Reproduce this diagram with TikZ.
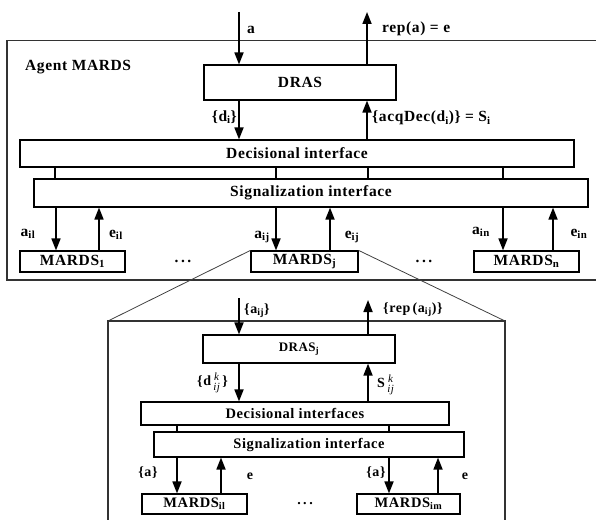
\documentclass[tikz,border=0pt]{standalone}
\usepackage{fontspec}
\setmainfont{Liberation Serif}[LetterSpace=4]
\usetikzlibrary{arrows.meta}
\newcommand{\kij}{\raisebox{-5pt}{\fontsize{11}{11.5}\selectfont\mdseries\itshape\shortstack{k\\ij}}}
\begin{document}
\begin{tikzpicture}[x=1pt,y=-1pt,
 box/.style={draw, line width=1.2pt, inner sep=0pt, font=\fontsize{15.5}{17}\selectfont\bfseries},
 ibox/.style={box, font=\fontsize{14.5}{16}\selectfont\bfseries},
 arr/.style={line width=1.7pt, -{Triangle[length=12pt,width=9pt]}},
 lbl/.style={inner sep=0pt, font=\fontsize{15.5}{17}\selectfont\bfseries},
 ilbl/.style={inner sep=0pt, font=\fontsize{14}{16}\selectfont\bfseries},
 link/.style={line width=1.1pt},
 frame/.style={line width=1.2pt, draw=black!80},
 zoomline/.style={line width=0.8pt, draw=black!75}]
\useasboundingbox (0,0) rectangle (596,519);
\clip (0,0) rectangle (596,519);

% outer frame
\coordinate (otl) at (7,40.5);
\coordinate (otr) at (610,40.5);
\coordinate (obl) at (7,280);
\coordinate (obr) at (610,280);
\draw[frame] (otr) -- (otl) -- (obl) -- (obr);
\node[lbl, anchor=west] (agent) at (25,67) {Agent MARDS};

% main DRAS
\node[box, minimum width=192pt, minimum height=35pt] (dras) at (300,82.5) {DRAS};
\coordinate (ain) at (239,12);
\coordinate (aout) at (367,12);
\draw[arr] (ain) -- (ain |- dras.north);
\draw[arr] (aout |- dras.north) -- (aout);
\node[lbl, anchor=west] (la) at (247,30) {a};
\node[lbl, anchor=west] (lrep) at (382,29) {rep(a) = e};

\node[box, minimum width=554pt, minimum height=27pt] (dec) at (297,153.5) {Decisional interface};
\draw[arr] (ain |- dras.south) -- (ain |- dec.north);
\draw[arr] (aout |- dec.north) -- (aout |- dras.south);
\node[lbl, anchor=east] (ldi) at (237,117) {\{d\textsubscript{i}\}};
\node[lbl, anchor=west] (lacq) at (372,118) {\{acqDec(d\textsubscript{i})\} = S\textsubscript{i}};

\node[box, minimum width=554pt, minimum height=28pt] (sig) at (311,193) {Signalization interface};
\foreach \xx in {55,276,368,503}{
  \coordinate (t\xx) at (\xx,0);
  \draw[link] (dec.south -| t\xx) -- (sig.north -| t\xx);
}

% lower MARDS
\node[box, minimum width=105pt, minimum height=21pt] (m1) at (72.5,261.5) {MARDS\textsubscript{1}};
\node[box, minimum width=107pt, minimum height=21pt] (mj) at (304.5,261.5) {MARDS\textsubscript{j}};
\node[box, minimum width=105pt, minimum height=21pt] (mn) at (526.5,261.5) {MARDS\textsubscript{n}};
\coordinate (d1) at (56,0);  \coordinate (u1) at (99,0);
\coordinate (dj) at (276,0); \coordinate (uj) at (330,0);
\coordinate (dn) at (503,0); \coordinate (un) at (553,0);
\draw[arr] (sig.south -| d1) -- (m1.north -| d1);
\draw[arr] (m1.north -| u1) -- (sig.south -| u1);
\draw[arr] (sig.south -| dj) -- (mj.north -| dj);
\draw[arr] (mj.north -| uj) -- (sig.south -| uj);
\draw[arr] (sig.south -| dn) -- (mn.north -| dn);
\draw[arr] (mn.north -| un) -- (sig.south -| un);
\node[lbl] (la1) at (28,234) {a\textsubscript{il}};
\node[lbl] (le1) at (116,235) {e\textsubscript{il}};
\node[lbl] (laj) at (262,237) {a\textsubscript{ij}};
\node[lbl] (lej) at (352,237) {e\textsubscript{ij}};
\node[lbl] (lan) at (481,232) {a\textsubscript{in}};
\node[lbl] (len) at (579,234) {e\textsubscript{in}};
\node[lbl] (dots1) at (183,261) {.\hspace{2.5pt}.\hspace{2.5pt}.};
\node[lbl] (dots2) at (424,261) {.\hspace{2.5pt}.\hspace{2.5pt}.};

% zoom
\coordinate (itl) at (108,321);
\coordinate (itr) at (505,321);
\coordinate (ibl) at (108,530);
\coordinate (ibr) at (505,530);
\draw[zoomline] (mj.north west) -- (itl);
\draw[zoomline] (mj.north east) -- (itr);
\draw[frame] (ibl) -- (itl) -- (itr) -- (ibr);

% inner DRAS_j
\node[box, font=\fontsize{13}{15}\selectfont\bfseries, minimum width=192pt, minimum height=28pt] (drasj) at (299,349) {DRAS\textsubscript{j}};
\coordinate (ain2) at (239,298);
\coordinate (aout2) at (368,300);
\draw[arr] (ain2) -- (ain2 |- drasj.north);
\draw[arr] (aout2 |- drasj.north) -- (aout2);
\node[ilbl, anchor=west] (laij) at (244,311) {\{a\textsubscript{ij}\}};
\node[ilbl, anchor=west] (lrepij) at (383,310) {\{rep\,(a\textsubscript{ij})\}};

\node[ibox, minimum width=308pt, minimum height=23pt] (deci) at (295,413.5) {Decisional interfaces};
\draw[arr] (ain2 |- drasj.south) -- (ain2 |- deci.north);
\draw[arr] (aout2 |- deci.north) -- (aout2 |- drasj.south);
\node[ilbl, anchor=east] (ldk) at (228,383) {\{d\,\kij\,\}};
\node[ilbl, anchor=west] (lsk) at (377,385) {S\,\kij};

\node[ibox, minimum width=310pt, minimum height=25pt] (sigi) at (309,444.5) {Signalization interface};
\foreach \xx in {177,389}{
  \coordinate (s\xx) at (\xx,0);
  \draw[link] (deci.south -| s\xx) -- (sigi.north -| s\xx);
}

\node[ibox, minimum width=105pt, minimum height=20pt] (mi1) at (194.5,504) {MARDS\textsubscript{il}};
\node[ibox, minimum width=103pt, minimum height=20pt] (mim) at (408.5,504) {MARDS\textsubscript{im}};
\coordinate (di1) at (177,0); \coordinate (ui1) at (221,0);
\coordinate (dim) at (389,0); \coordinate (uim) at (438,0);
\draw[arr] (sigi.south -| di1) -- (mi1.north -| di1);
\draw[arr] (mi1.north -| ui1) -- (sigi.south -| ui1);
\draw[arr] (sigi.south -| dim) -- (mim.north -| dim);
\draw[arr] (mim.north -| uim) -- (sigi.south -| uim);
\node[ilbl] (lai1) at (148,473) {\{a\}};
\node[ilbl] (lei1) at (250,476) {e};
\node[ilbl] (laim) at (376,473) {\{a\}};
\node[ilbl] (leim) at (465,476) {e};
\node[ilbl] (dots3) at (305,504) {.\hspace{2.5pt}.\hspace{2.5pt}.};
\end{tikzpicture}
\end{document}
